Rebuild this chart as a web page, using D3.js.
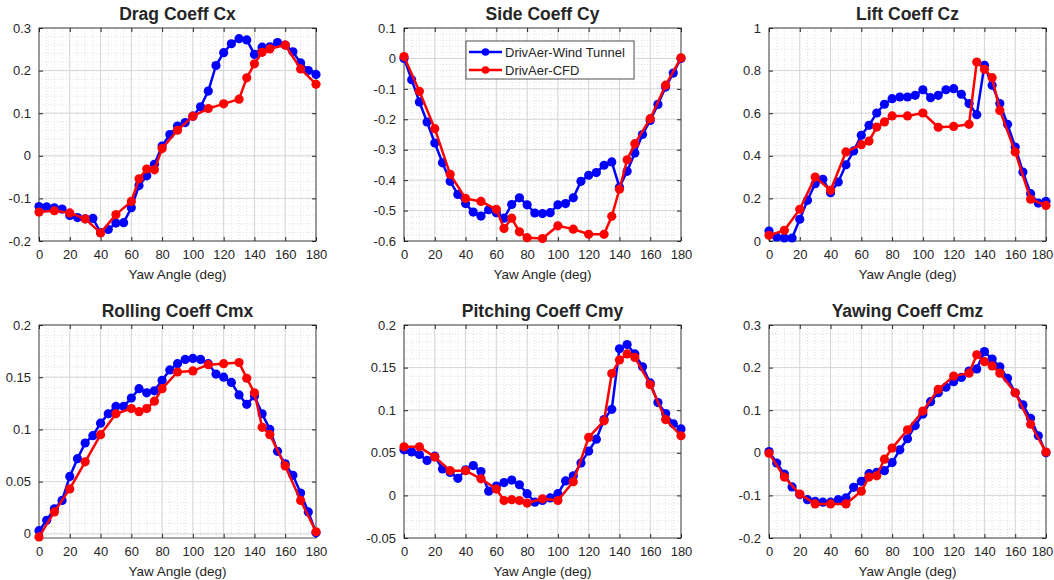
<!doctype html>
<html>
<head>
<meta charset="utf-8">
<title>DrivAer coefficients</title>
<style>
body { margin:0; background:#fff; }
svg text { font-family: "Liberation Sans", Arial, sans-serif; fill:#262626; }
</style>
</head>
<body>
<div id="chart"></div>
<script src="https://d3js.org/d3.v7.min.js"></script>
<script>
// yaw angles
var angleWT = [0,5,10,15,20,25,30,35,40,45,50,55,60,65,70,75,80,85,90,95,100,105,110,115,120,125,130,135,140,145,150,155,160,165,170,175,180];
var angleCFD = [0,10,20,30,40,50,60,65,70,75,80,90,100,110,120,130,135,140,145,150,160,170,180];
var xTicks = [0,20,40,60,80,100,120,140,160,180];

// Drag Cx
var cxWT = [-0.119,-0.12,-0.122,-0.125,-0.14,-0.145,-0.148,-0.147,-0.18,-0.173,-0.158,-0.157,-0.122,-0.07,-0.047,-0.02,0.023,0.05,0.07,0.078,0.093,0.115,0.152,0.212,0.242,0.263,0.275,0.272,0.238,0.255,0.256,0.266,0.26,0.244,0.218,0.2,0.191];
var cxCFD = [-0.132,-0.129,-0.134,-0.148,-0.181,-0.138,-0.107,-0.054,-0.031,-0.033,0.017,0.06,0.093,0.111,0.122,0.133,0.183,0.216,0.243,0.251,0.26,0.204,0.168];
var cxTicks = [-0.2,-0.1,0,0.1,0.2,0.3];

// Side Cy
var cyWT = [0,-0.07,-0.143,-0.209,-0.278,-0.343,-0.404,-0.447,-0.477,-0.505,-0.518,-0.497,-0.507,-0.525,-0.48,-0.458,-0.481,-0.508,-0.51,-0.507,-0.481,-0.477,-0.458,-0.404,-0.384,-0.375,-0.351,-0.34,-0.423,-0.371,-0.311,-0.25,-0.204,-0.151,-0.094,-0.048,0];
var cyCFD = [0.006,-0.108,-0.231,-0.381,-0.46,-0.47,-0.496,-0.559,-0.525,-0.57,-0.589,-0.592,-0.55,-0.561,-0.578,-0.578,-0.519,-0.43,-0.333,-0.28,-0.198,-0.088,0.002];
var cyTicks = [-0.6,-0.5,-0.4,-0.3,-0.2,-0.1,0,0.1];

// Lift Cz
var czWT = [0.047,0.019,0.014,0.014,0.102,0.191,0.269,0.29,0.227,0.277,0.358,0.423,0.496,0.543,0.601,0.642,0.668,0.676,0.676,0.684,0.71,0.673,0.684,0.71,0.715,0.689,0.645,0.593,0.825,0.731,0.645,0.548,0.441,0.324,0.222,0.178,0.186];
var czCFD = [0.027,0.05,0.149,0.3,0.238,0.418,0.452,0.469,0.535,0.559,0.587,0.587,0.601,0.534,0.538,0.548,0.84,0.806,0.767,0.613,0.418,0.196,0.167];
var czTicks = [0,0.2,0.4,0.6,0.8,1];

// Rolling Cmx
var cmxWT = [0.003,0.013,0.024,0.032,0.055,0.072,0.087,0.094,0.106,0.115,0.122,0.122,0.13,0.139,0.135,0.137,0.147,0.157,0.163,0.167,0.168,0.167,0.163,0.153,0.15,0.145,0.133,0.124,0.132,0.115,0.1,0.079,0.067,0.056,0.039,0.021,0.001];
var cmxCFD = [-0.003,0.021,0.043,0.069,0.095,0.115,0.12,0.117,0.12,0.127,0.139,0.155,0.156,0.162,0.163,0.164,0.149,0.135,0.102,0.095,0.065,0.032,0.002];
var cmxTicks = [0,0.05,0.1,0.15,0.2];

// Pitching Cmy
var cmyWT = [0.0535,0.051,0.048,0.041,0.046,0.031,0.027,0.02,0.03,0.035,0.028,0.005,0.011,0.015,0.018,0.0125,0.002,-0.008,-0.006,-0.003,0.002,0.017,0.023,0.038,0.052,0.066,0.089,0.101,0.172,0.177,0.166,0.151,0.132,0.109,0.096,0.084,0.078];
var cmyCFD = [0.057,0.057,0.045,0.029,0.029,0.0195,0.0074,-0.006,-0.005,-0.006,-0.009,-0.004,-0.006,0.016,0.068,0.0875,0.143,0.159,0.166,0.162,0.13,0.089,0.07];
var cmyTicks = [-0.05,0,0.05,0.1,0.15,0.2];

// Yawing Cmz
var cmzWT = [0.003,-0.024,-0.05,-0.08,-0.098,-0.11,-0.114,-0.116,-0.116,-0.11,-0.106,-0.081,-0.067,-0.049,-0.046,-0.042,-0.023,0.007,0.033,0.064,0.091,0.12,0.141,0.154,0.167,0.177,0.192,0.197,0.2375,0.22,0.202,0.175,0.141,0.1125,0.081,0.04,0];
var cmzCFD = [-0.001,-0.057,-0.097,-0.12,-0.12,-0.12,-0.09,-0.057,-0.054,-0.015,0.011,0.054,0.098,0.149,0.18,0.187,0.23,0.214,0.204,0.187,0.141,0.067,0.0016];
var cmzTicks = [-0.2,-0.1,0,0.1,0.2,0.3];

var panels = [
  {title:"Drag Coeff Cx", wt:cxWT, cfd:cxCFD, yDomain:[-0.2,0.3], yTicks:cxTicks, minor:0.02, col:0, row:0},
  {title:"Side Coeff Cy", wt:cyWT, cfd:cyCFD, yDomain:[-0.6,0.1], yTicks:cyTicks, minor:0.02, col:1, row:0, legend:true},
  {title:"Lift Coeff Cz", wt:czWT, cfd:czCFD, yDomain:[0,1], yTicks:czTicks, minor:0.05, col:2, row:0},
  {title:"Rolling Coeff Cmx", wt:cmxWT, cfd:cmxCFD, yDomain:[-0.004,0.2], yTicks:cmxTicks, minor:0.01, col:0, row:1},
  {title:"Pitching Coeff Cmy", wt:cmyWT, cfd:cmyCFD, yDomain:[-0.05,0.2], yTicks:cmyTicks, minor:0.01, col:1, row:1},
  {title:"Yawing Coeff Cmz", wt:cmzWT, cfd:cmzCFD, yDomain:[-0.2,0.3], yTicks:cmzTicks, minor:0.02, col:2, row:1}
];

var W = 1054, H = 580;
var colLeft = [39, 404, 769];
var rowTop = [28, 325];
var pw = 277, ph = 213;
var blue = "#0000ff", red = "#ff0000";

var svg = d3.select("#chart").append("svg").attr("width", W).attr("height", H);

function fmt(d) { return String(+d.toFixed(4)); }

panels.forEach(function(p) {
  var g = svg.append("g").attr("transform", "translate(" + colLeft[p.col] + "," + rowTop[p.row] + ")");
  var x = d3.scaleLinear().domain([0, 180]).range([0, pw]);
  var y = d3.scaleLinear().domain(p.yDomain).range([ph, 0]);

  g.append("rect").attr("width", pw).attr("height", ph).attr("fill", "#fff");

  // minor grid
  var xMinor = d3.range(0, 180.001, 5);
  var yMinor = [];
  for (var v = Math.ceil(p.yDomain[0] / p.minor) * p.minor; v <= p.yDomain[1] + 1e-9; v += p.minor) yMinor.push(v);
  g.selectAll(".xmin").data(xMinor).enter().append("line")
    .attr("x1", d => x(d)).attr("x2", d => x(d)).attr("y1", 0).attr("y2", ph)
    .attr("stroke", "#d4d4d4").attr("stroke-width", 0.7).attr("stroke-dasharray", "1,2");
  g.selectAll(".ymin").data(yMinor).enter().append("line")
    .attr("y1", d => y(d)).attr("y2", d => y(d)).attr("x1", 0).attr("x2", pw)
    .attr("stroke", "#d4d4d4").attr("stroke-width", 0.7).attr("stroke-dasharray", "1,2");

  // major grid
  g.selectAll(".xmaj").data(xTicks).enter().append("line")
    .attr("x1", d => x(d)).attr("x2", d => x(d)).attr("y1", 0).attr("y2", ph)
    .attr("stroke", "#d2d2d2").attr("stroke-width", 0.9);
  g.selectAll(".ymaj").data(p.yTicks).enter().append("line")
    .attr("y1", d => y(d)).attr("y2", d => y(d)).attr("x1", 0).attr("x2", pw)
    .attr("stroke", "#d2d2d2").attr("stroke-width", 0.9);

  // axes (ticks inward, box all round)
  g.append("g").attr("transform", "translate(0," + ph + ")")
    .call(d3.axisBottom(x).tickValues(xTicks).tickSize(-4).tickPadding(9).tickFormat(fmt))
    .call(s => {
      s.select(".domain").remove();
      s.selectAll("text").attr("font-size", 13).attr("fill", "#262626");
      s.selectAll("line").attr("stroke", "#262626");
      // last label of the right column sits at the page edge
      if (p.col === 2) s.selectAll("text").filter(d => d === 180).attr("dx", -4);
    });
  g.append("g")
    .call(d3.axisLeft(y).tickValues(p.yTicks).tickSize(-4).tickPadding(8).tickFormat(fmt))
    .call(s => { s.select(".domain").remove(); s.selectAll("text").attr("font-size", 13).attr("fill", "#262626"); s.selectAll("line").attr("stroke", "#262626"); });
  g.append("g")
    .call(d3.axisTop(x).tickValues(xTicks).tickSize(-4).tickFormat(""))
    .call(s => { s.select(".domain").remove(); s.selectAll("line").attr("stroke", "#262626"); });
  g.append("g").attr("transform", "translate(" + pw + ",0)")
    .call(d3.axisRight(y).tickValues(p.yTicks).tickSize(-4).tickFormat(""))
    .call(s => { s.select(".domain").remove(); s.selectAll("line").attr("stroke", "#262626"); });
  g.append("rect").attr("width", pw).attr("height", ph).attr("fill", "none")
    .attr("stroke", "#262626").attr("stroke-width", 0.8);

  // series
  var line = d3.line().x(d => x(d[0])).y(d => y(d[1]));
  [[angleWT, p.wt, blue], [angleCFD, p.cfd, red]].forEach(function(s) {
    var pts = s[0].map((a, i) => [a, s[1][i]]);
    g.append("path").attr("d", line(pts)).attr("fill", "none")
      .attr("stroke", s[2]).attr("stroke-width", 2.5).attr("stroke-linejoin", "round");
    g.selectAll(null).data(pts).enter().append("circle")
      .attr("cx", d => x(d[0])).attr("cy", d => y(d[1])).attr("r", 4.6)
      .attr("fill", s[2]);
  });

  // title and label
  g.append("text").attr("x", pw / 2).attr("y", -8).attr("text-anchor", "middle")
    .attr("font-size", 17.5).attr("font-weight", "bold").attr("fill", "#000").text(p.title);
  g.append("text").attr("x", pw / 2).attr("y", ph + 38).attr("text-anchor", "middle")
    .attr("font-size", 13.5).attr("fill", "#262626").text("Yaw Angle (deg)");

  if (p.legend) {
    var lg = g.append("g").attr("transform", "translate(62,13)");
    lg.append("rect").attr("width", 168).attr("height", 38).attr("fill", "#fff")
      .attr("stroke", "#262626").attr("stroke-width", 0.8);
    [["DrivAer-Wind Tunnel", blue], ["DrivAer-CFD", red]].forEach(function(e, i) {
      var yy = 11 + i * 18;
      lg.append("line").attr("x1", 3).attr("x2", 36).attr("y1", yy).attr("y2", yy)
        .attr("stroke", e[1]).attr("stroke-width", 2.5);
      lg.append("circle").attr("cx", 19.5).attr("cy", yy).attr("r", 3.8).attr("fill", e[1]);
      lg.append("text").attr("x", 39).attr("y", yy + 4.5).attr("font-size", 13).attr("fill", "#000").text(e[0]);
    });
  }
});
</script>
</body>
</html>
